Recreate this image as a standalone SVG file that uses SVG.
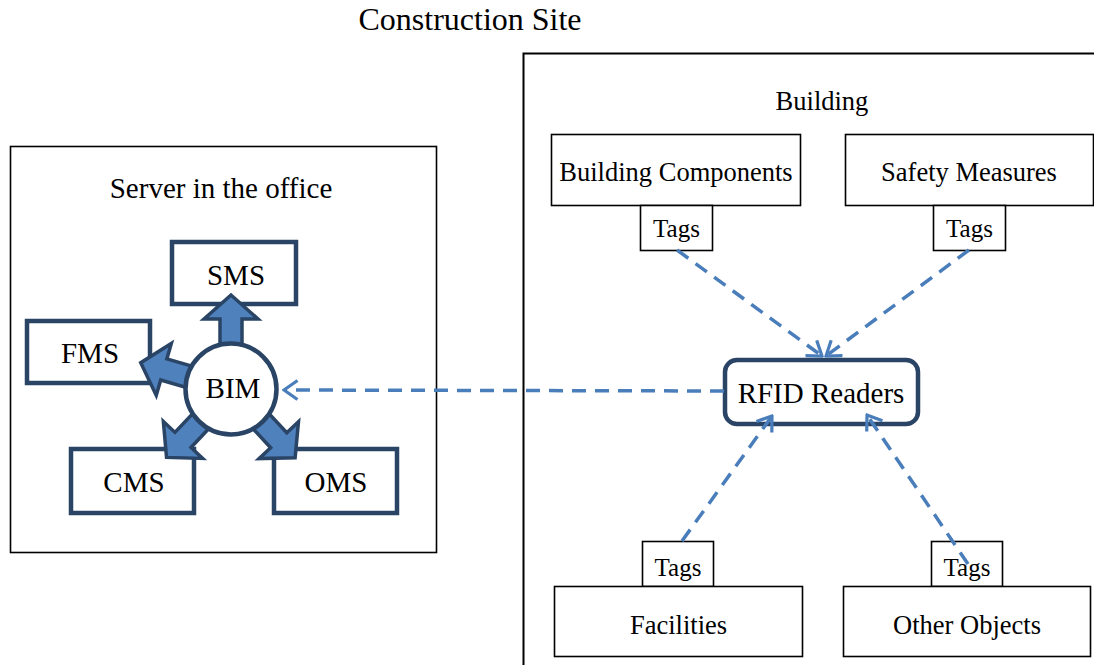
<svg xmlns="http://www.w3.org/2000/svg" width="1094" height="665" viewBox="0 0 1094 665">
<defs>
<style>
text{font-family:"Liberation Serif","Times New Roman",serif;fill:#000;text-anchor:middle}
.box{fill:#fff;stroke:#000;stroke-width:1.6}
.nbox{fill:#fff;stroke:#2a4466;stroke-width:4.5}
.dash{fill:none;stroke:#4a7ebb;stroke-width:3.5;stroke-dasharray:14 9;marker-end:url(#open)}
.blk{fill:#4f81bd;stroke:#2a4466;stroke-width:3.5;stroke-linejoin:miter}
</style>
<marker id="open" viewBox="0 0 17 22" refX="15" refY="11" markerWidth="17" markerHeight="22" markerUnits="userSpaceOnUse" orient="auto">
<path d="M1.5,1.5 L15,11 L1.5,20.5" fill="none" stroke="#4a7ebb" stroke-width="3.2" stroke-linejoin="miter"/>
</marker>
<path id="barrow" d="M-11,0 L-11,-70 L-27,-70 L0,-94 L27,-70 L11,-70 L11,0 Z"/>
</defs>
<rect width="1094" height="665" fill="#fff"/>
<text x="470" y="30" font-size="32">Construction Site</text>
<g id="building">
<rect x="523.5" y="53.5" width="600" height="700" fill="none" stroke="#000" stroke-width="2"/>
<text x="822" y="110" font-size="26.5">Building</text>
</g>
<g id="server">
<rect x="10.5" y="146.5" width="426" height="406" class="box"/>
<text x="221" y="198" font-size="29">Server in the office</text>
</g>
<g id="sms"><rect x="172" y="242" width="124" height="62" class="nbox"/><text x="236" y="285" font-size="29">SMS</text></g>
<g id="fms"><rect x="27" y="321" width="123" height="62" class="nbox"/><text x="90" y="363" font-size="29">FMS</text></g>
<g id="cms"><rect x="71" y="449" width="123" height="64" class="nbox"/><text x="134" y="492" font-size="29">CMS</text></g>
<g id="oms"><rect x="274" y="449" width="123" height="64" class="nbox"/><text x="336" y="492" font-size="29">OMS</text></g>
<g id="block-arrows">
<use href="#barrow" class="blk" transform="translate(231,389)"/>
<use href="#barrow" class="blk" transform="translate(231,389) rotate(-73.8)"/>
<use href="#barrow" class="blk" transform="translate(231,389) rotate(-136.7)"/>
<use href="#barrow" class="blk" transform="translate(231,389) rotate(137)"/>
</g>
<g id="bim"><circle cx="231" cy="389" r="45.5" class="nbox"/><text x="233" y="398" font-size="29">BIM</text></g>
<g id="building-components"><rect x="551.5" y="134.5" width="249" height="71" class="box"/><text x="676" y="181" font-size="26.5">Building Components</text></g>
<g id="tags-bc"><rect x="640.5" y="205.5" width="72" height="45" class="box"/><text x="676.5" y="237" font-size="25">Tags</text></g>
<g id="safety-measures"><rect x="845.5" y="134.5" width="248" height="71" class="box"/><text x="969" y="181" font-size="26.5">Safety Measures</text></g>
<g id="tags-sm"><rect x="933.5" y="205.5" width="72" height="45" class="box"/><text x="969.5" y="237" font-size="25">Tags</text></g>
<g id="rfid"><rect x="725" y="360" width="193" height="64" rx="12" class="nbox"/><text x="821" y="403" font-size="29">RFID Readers</text></g>
<g id="tags-fac"><rect x="642.5" y="541.5" width="71" height="45" class="box"/><text x="678" y="576" font-size="25">Tags</text></g>
<g id="facilities"><rect x="554.5" y="586.5" width="248" height="70" class="box"/><text x="678.5" y="634" font-size="26.5">Facilities</text></g>
<g id="tags-oo"><rect x="931.5" y="541.5" width="71" height="45" class="box"/><text x="967" y="576" font-size="25">Tags</text></g>
<g id="other-objects"><rect x="843.5" y="586.5" width="247" height="70" class="box"/><text x="967" y="634" font-size="26.5">Other Objects</text></g>
<g id="connectors">
<path class="dash" d="M677,250 L822,356"/>
<path class="dash" d="M969,250 L826,356"/>
<path class="dash" d="M682,541 L772,416"/>
<path class="dash" d="M968,564 L867,415"/>
<path class="dash" d="M724,391 L284,390"/>
</g>
</svg>
